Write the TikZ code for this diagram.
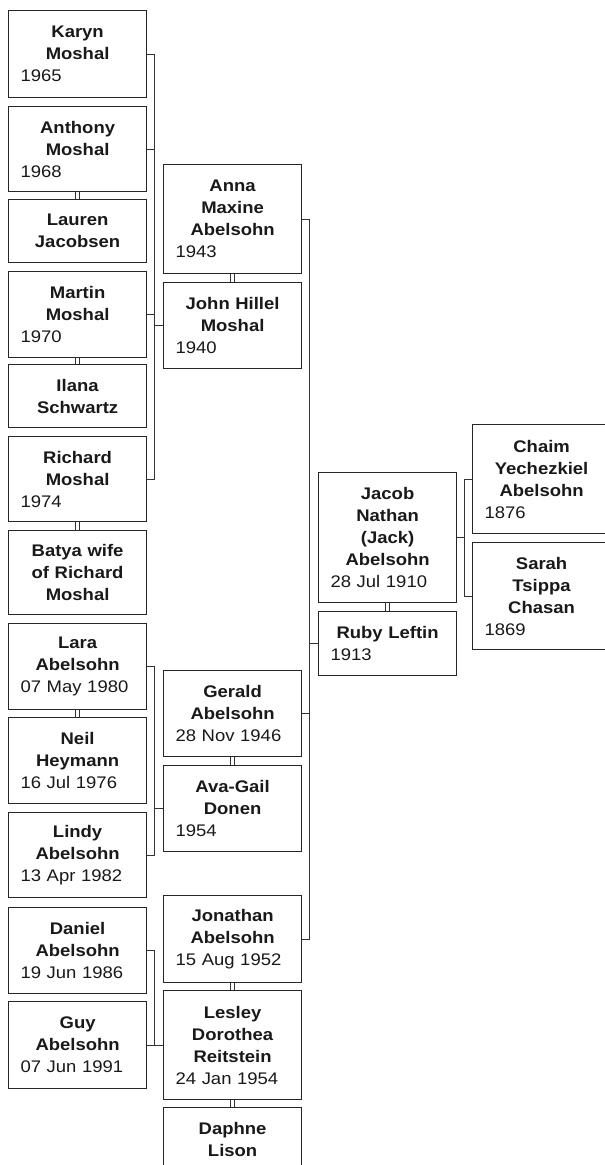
\documentclass[tikz,border=0pt]{standalone}
\usepackage{fontspec}
\setmainfont{Liberation Sans}[FakeStretch=1.1]
\newcommand\datel[1]{\makebox[114pt][l]{#1}}
\begin{document}
\begin{tikzpicture}[x=1pt,y=-1pt,
  pbox/.style={draw=black!85, line width=1.2pt, fill=white, text=black!90,
    text width=114pt, inner xsep=12pt, inner ysep=0pt, align=center,
    anchor=north west, minimum height=#1,
    font=\fontsize{16.8}{22}\selectfont},
  conn/.style={draw=black!80, line width=1pt},
  wed/.style={draw=black!80, line width=0.8pt}]
\useasboundingbox (0,0) rectangle (605,1165);
\fill[white] (0,0) rectangle (605,1165);
\clip (0,0) rectangle (605,1165);
% left column
\node[pbox=87] (karyn) at (8,10) {\textbf{Karyn}\\\textbf{Moshal}\\\datel{1965}};
\node[pbox=85] (anthony) at (8,106) {\textbf{Anthony}\\\textbf{Moshal}\\\datel{1968}};
\node[pbox=63] (lauren) at (8,199) {\textbf{Lauren}\\\textbf{Jacobsen}};
\node[pbox=86] (martin) at (8,271) {\textbf{Martin}\\\textbf{Moshal}\\\datel{1970}};
\node[pbox=63] (ilana) at (8,364) {\textbf{Ilana}\\\textbf{Schwartz}};
\node[pbox=85] (richard) at (8,436) {\textbf{Richard}\\\textbf{Moshal}\\\datel{1974}};
\node[pbox=84] (batya) at (8,530) {\textbf{Batya wife}\\\textbf{of Richard}\\\textbf{Moshal}};
\node[pbox=86] (lara) at (8,623) {\textbf{Lara}\\\textbf{Abelsohn}\\\datel{07 May 1980}};
\node[pbox=86] (neil) at (8,717) {\textbf{Neil}\\\textbf{Heymann}\\\datel{16 Jul 1976}};
\node[pbox=85] (lindy) at (8,812) {\textbf{Lindy}\\\textbf{Abelsohn}\\\datel{13 Apr 1982}};
\node[pbox=86] (daniel) at (8,907) {\textbf{Daniel}\\\textbf{Abelsohn}\\\datel{19 Jun 1986}};
\node[pbox=87] (guy) at (8,1001) {\textbf{Guy}\\\textbf{Abelsohn}\\\datel{07 Jun 1991}};
% middle column
\node[pbox=109] (anna) at (163,164) {\textbf{Anna}\\\textbf{Maxine}\\\textbf{Abelsohn}\\\datel{1943}};
\node[pbox=86] (john) at (163,282) {\textbf{John Hillel}\\\textbf{Moshal}\\\datel{1940}};
\node[pbox=86] (gerald) at (163,670) {\textbf{Gerald}\\\textbf{Abelsohn}\\\datel{28 Nov 1946}};
\node[pbox=86] (ava) at (163,765) {\textbf{Ava-Gail}\\\textbf{Donen}\\\datel{1954}};
\node[pbox=87] (jonathan) at (163,895) {\textbf{Jonathan}\\\textbf{Abelsohn}\\\datel{15 Aug 1952}};
\node[pbox=109] (lesley) at (163,990) {\textbf{Lesley}\\\textbf{Dorothea}\\\textbf{Reitstein}\\\datel{24 Jan 1954}};
\node[pbox=63] (daphne) at (163,1107) {\textbf{Daphne}\\\textbf{Lison}};
% third column
\node[pbox=130] (jacob) at (318,472) {\textbf{Jacob}\\\textbf{Nathan}\\\textbf{(Jack)}\\\textbf{Abelsohn}\\\datel{28 Jul 1910}};
\node[pbox=64] (ruby) at (318,611) {\textbf{Ruby Leftin}\\\datel{1913}};
% fourth column
\node[pbox=109] (chaim) at (472,424) {\textbf{Chaim}\\\textbf{Yechezkiel}\\\textbf{Abelsohn}\\\datel{1876}};
\node[pbox=107] (sarah) at (472,542) {\textbf{Sarah}\\\textbf{Tsippa}\\\textbf{Chasan}\\\datel{1869}};
% bracket positions
\coordinate (bA) at (154.5,0);
\coordinate (bJ) at (309,0);
\coordinate (bP) at (464,0);
% Anna & John's children
\draw[conn] (karyn.east) -- (karyn.east -| bA) -- (richard.east -| bA) -- (richard.east);
\draw[conn] (anthony.east) -- (anthony.east -| bA);
\draw[conn] (martin.east) -- (martin.east -| bA);
\draw[conn] (john.west) -- (john.west -| bA);
% Gerald & Ava-Gail's children
\draw[conn] (lara.east) -- (lara.east -| bA) -- (lindy.east -| bA) -- (lindy.east);
\draw[conn] (ava.west) -- (ava.west -| bA);
% Jonathan & Lesley's children
\draw[conn] (daniel.east) -- (daniel.east -| bA) -- (guy.east -| bA) -- (guy.east);
\draw[conn] (lesley.west) -- (lesley.west -| bA);
% Jacob & Ruby's children
\draw[conn] (anna.east) -- (anna.east -| bJ) -- (jonathan.east -| bJ) -- (jonathan.east);
\draw[conn] (gerald.east) -- (gerald.east -| bJ);
\draw[conn] (ruby.west) -- (ruby.west -| bJ);
% Jacob's parents
\draw[conn] (chaim.west) -- (chaim.west -| bP) -- (sarah.west -| bP) -- (sarah.west);
\draw[conn] (jacob.east) -- (jacob.east -| bP);
% marriages
\foreach \a/\b in {anthony/lauren, martin/ilana, richard/batya, lara/neil, anna/john, gerald/ava, jonathan/lesley, lesley/daphne, jacob/ruby} {
  \draw[wed] ([xshift=-2pt]\a.south) -- ([xshift=-2pt]\b.north);
  \draw[wed] ([xshift=2pt]\a.south) -- ([xshift=2pt]\b.north);
}
\end{tikzpicture}
\end{document}
